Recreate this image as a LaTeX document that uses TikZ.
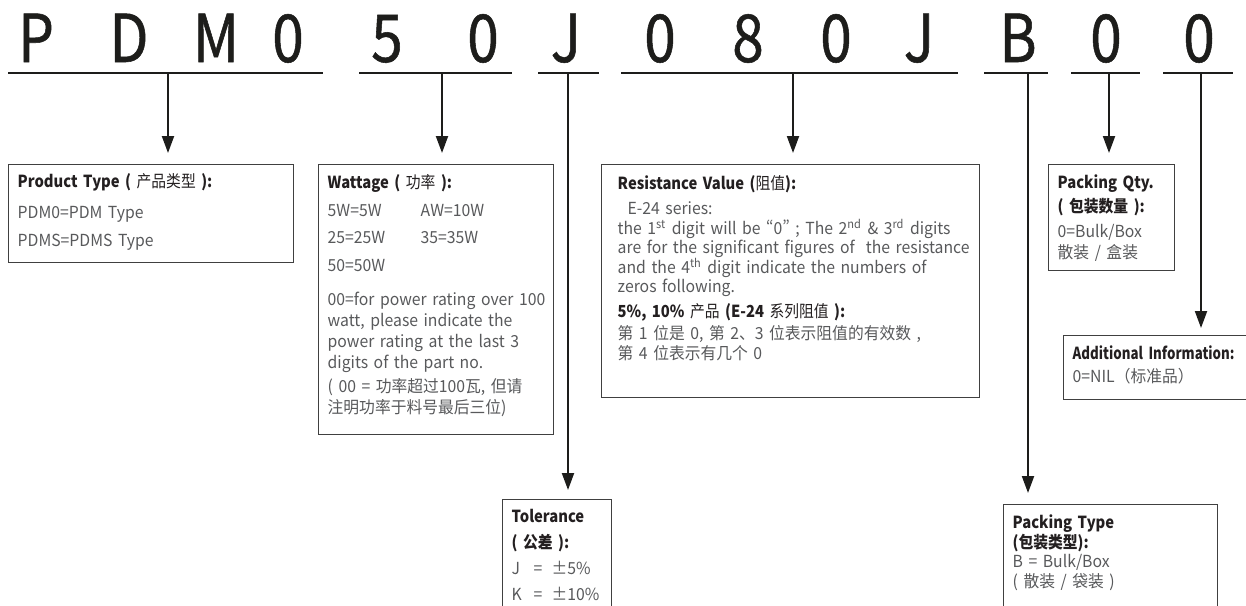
\documentclass[tikz,border=0pt]{standalone}
\usepackage{fontspec}
\setmainfont{Noto Sans CJK SC}
\newfontfamily\boxfont{Noto Sans CJK SC}[FakeStretch=0.95]
\newfontfamily\hdfont{Noto Sans CJK SC}[FakeStretch=0.89]
\newfontfamily\hdnarrowfont{Noto Sans CJK SC}[FakeStretch=0.8]
\newfontfamily\codefont{Noto Sans CJK SC}[FakeStretch=0.86, FakeBold=0.8]
\usepackage{tikz}
\usetikzlibrary{
  arrows.meta
}
\definecolor{CodeBlack}{RGB}{29, 29, 27}
\definecolor{TitleBlack}{RGB}{35, 31, 32}
\definecolor{BodyGray}{RGB}{88, 89, 91}
\definecolor{BoxGray}{RGB}{64, 64, 64}
\newcommand{\heading}[1]{{\hdfont\bfseries\color{TitleBlack}#1}}
\newcommand{\zh}[1]{{\mdseries #1}}
\newcommand{\pw}[1]{{\addfontfeatures{RawFeature=+pwid}#1}}
\tikzset{
    codechar/.style={anchor=base, inner sep=0pt, text=CodeBlack,
        font=\codefont\fontsize{33}{36}\selectfont},
    codeline/.style={line width=1.3pt, draw=CodeBlack},
    pointer/.style={line width=1pt, draw=CodeBlack, -{Triangle[length=8.5pt,width=6pt]}, shorten >=5.5pt},
    infobox/.style={draw=BoxGray, line width=0.7pt, anchor=north west, align=left,
        inner xsep=4.5pt, inner ysep=0pt, text=BodyGray, font=\boxfont\fontsize{8.3}{10.5}\selectfont},
}

\begin{document}
\begin{tikzpicture}[x=0.5pt, y=-0.5pt]
    \useasboundingbox (0,0) rectangle (1246,605);

    % part number
    \node[codechar] (c1) at (36,62) {P};
    \node[codechar] (c2) at (129,62) {D};
    \node[codechar] (c3) at (216,62) {M};
    \node[codechar] (c4) at (288,62) {0};
    \node[codechar] (c5) at (387,62) {5};
    \node[codechar] (c6) at (483,62) {0};
    \node[codechar] (c7) at (566,62) {J};
    \node[codechar] (c8) at (660,62) {0};
    \node[codechar] (c9) at (748,62) {8};
    \node[codechar] (c10) at (836,62) {0};
    \node[codechar] (c11) at (919,62) {J};
    \node[codechar] (c12) at (1018,62) {B};
    \node[codechar] (c13) at (1106,62) {0};
    \node[codechar] (c14) at (1199,62) {0};

    \draw[codeline] (8,73) -- (323,73);
    \draw[codeline] (359,73) -- (512,73);
    \draw[codeline] (538,73) -- (599,73);
    \draw[codeline] (621,73) -- (958,73);
    \draw[codeline] (984,73) -- (1048,73);
    \draw[codeline] (1071,73) -- (1140,73);
    \draw[codeline] (1163,73) -- (1233,73);

    % description boxes
    \node[infobox, text width=133.5pt, text height=11.5pt, text depth=37.5pt,
        font=\boxfont\fontsize{8.3}{14}\selectfont] (prod) at (8,164) {%
        \heading{Product Type ( \zh{产品类型} ):}\\[1.5pt]
        PDM0=PDM Type\\
        PDMS=PDMS Type};

    \node[infobox, text width=108.5pt, text height=12pt, text depth=123pt] (watt) at (318,164) {%
        \heading{Wattage ( \zh{功率} ):}\\[3.5pt]
        \makebox[46.5pt][l]{5W=5W}AW=10W\\[3pt]
        \makebox[46.5pt][l]{25=25W}35=35W\\[3.5pt]
        50=50W\\[6.5pt]
        \mbox{00=for power rating over 100}\\
        watt, please indicate the\\
        power rating at the last 3\\
        digits of the part no.\\[1.5pt]
        \mbox{( 00 = 功率超过100瓦, 但请}\\
        注明功率于料号最后三位)};

    \node[infobox, inner xsep=5pt, text width=179pt, text height=12.5pt, text depth=104pt,
        font=\boxfont\fontsize{8.3}{9.75}\selectfont] (res) at (601,164) {%
        \leftskip=3pt\relax\heading{Resistance Value (\zh{阻值}):}\\[2.75pt]
        \hspace*{5pt}E-24 series:\\
        \mbox{the 1\textsuperscript{st} digit will be \pw{“0”} ; The 2\textsuperscript{nd} \& 3\textsuperscript{rd} digits}\\
        \mbox{are for the significant figures of \ the resistance}\\
        \mbox{and the 4\textsuperscript{th} digit indicate the numbers of}\\
        zeros following.\\[2.5pt]
        \heading{5\%, 10\% \zh{产品} (E-24 \zh{系列阻值} ):}\\[1.5pt]
        第 1 位是 0, 第 2、3 位表示阻值的有效数 ,\\
        第 4 位表示有几个 0\par};

    \node[infobox, text width=45.5pt, text height=11.5pt, text depth=59pt,
        font=\boxfont\fontsize{8.3}{13}\selectfont] (tol) at (502,499) {%
        \heading{Tolerance}\\
        \heading{( 公差 ):}\\
        \makebox[11pt][l]{J}\makebox[9pt][l]{=}\pw{±5\%}\\
        \makebox[11pt][l]{K}\makebox[9pt][l]{=}\pw{±10\%}};

    \node[infobox, text width=98pt, text height=12pt, text depth=56pt,
        font=\boxfont\fontsize{8.3}{9.8}\selectfont] (ptype) at (1003,504) {%
        \heading{Packing Type}\\
        \heading{(包装类型):}\\
        B = Bulk/Box\\
        ( 散装 / 袋装 )};

    \node[infobox, text width=54pt, text height=12pt, text depth=41pt,
        font=\boxfont\fontsize{8.3}{12}\selectfont] (pqty) at (1048,164) {%
        \heading{Packing Qty.}\\
        \heading{( 包装数量 ):}\\[0.5pt]
        0=Bulk/Box\\[-1.5pt]
        散装 / 盒装};

    \node[infobox, text width=109.5pt, text height=12pt, text depth=20pt,
        font=\boxfont\fontsize{8.3}{11.5}\selectfont] (addi) at (1063,335) {%
        {\hdnarrowfont\bfseries\color{TitleBlack}Additional Information:}\\
        0=NIL（标准品）};

    % pointers
    \coordinate (t1) at (168,73);
    \coordinate (t2) at (442,73);
    \coordinate (t3) at (568,73);
    \coordinate (t4) at (793,73);
    \coordinate (t5) at (1028,73);
    \coordinate (t6) at (1109,73);
    \coordinate (t7) at (1201,73);
    \draw[pointer] (t1) -- (t1 |- prod.north);
    \draw[pointer] (t2) -- (t2 |- watt.north);
    \draw[pointer, shorten >=4.5pt] (t3) -- (t3 |- tol.north);
    \draw[pointer] (t4) -- (t4 |- res.north);
    \draw[pointer] (t5) -- (t5 |- ptype.north);
    \draw[pointer] (t6) -- (t6 |- pqty.north);
    \draw[pointer, shorten >=3.5pt] (t7) -- (t7 |- addi.north);
\end{tikzpicture}
\end{document}
